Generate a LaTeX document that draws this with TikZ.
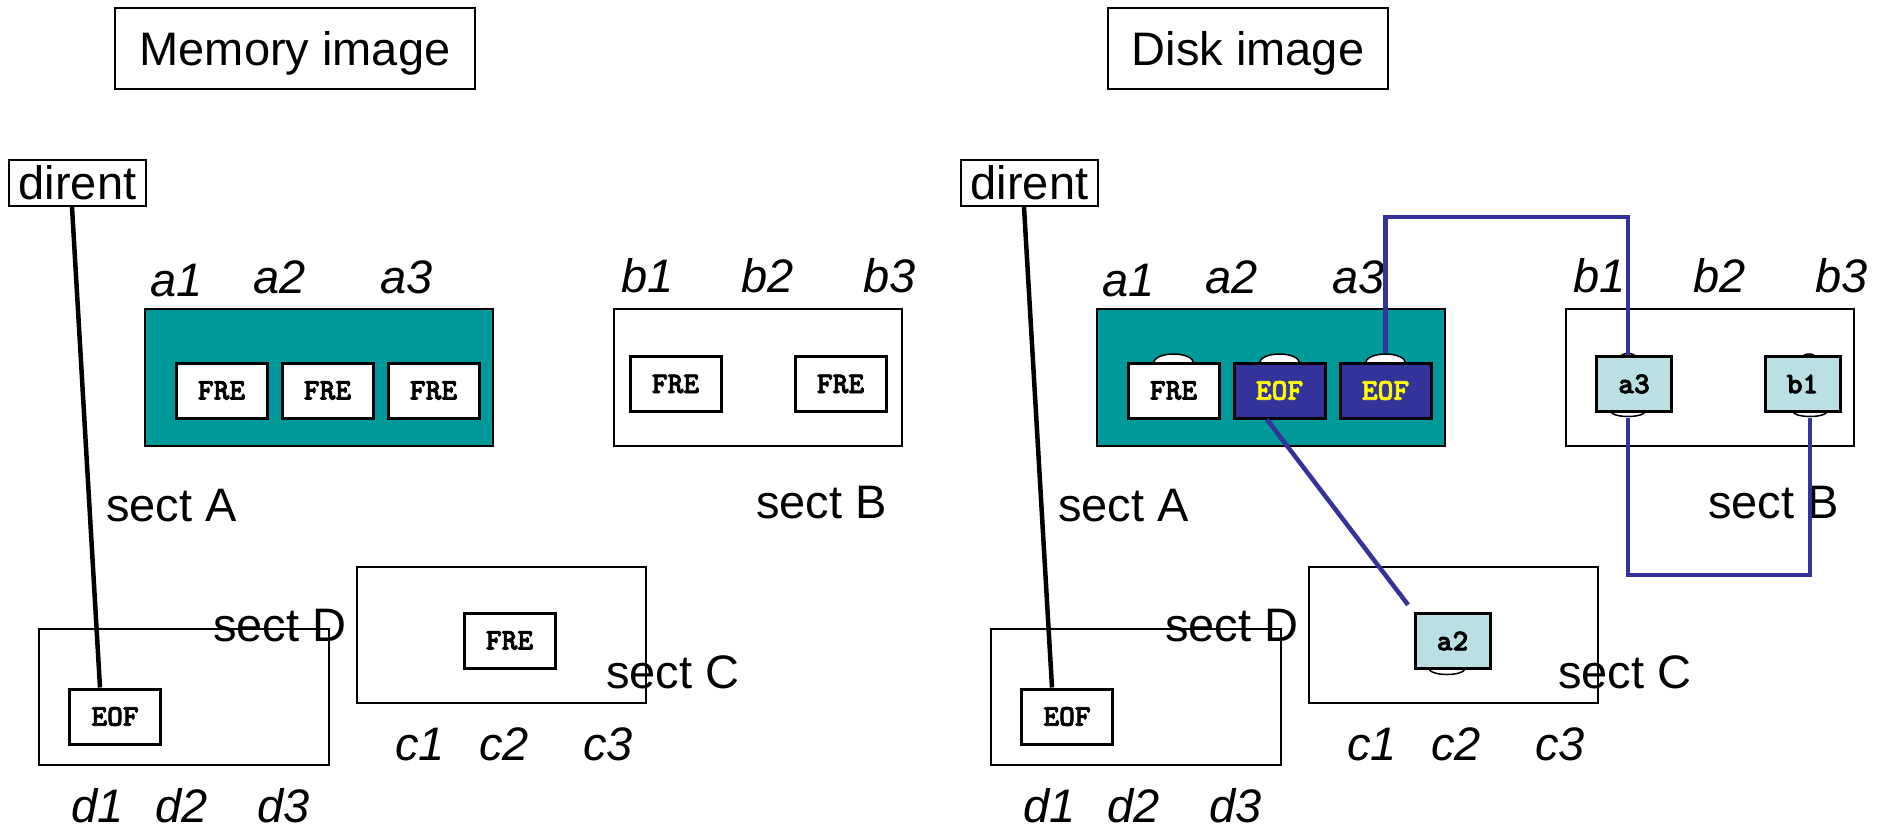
\documentclass[tikz,border=0pt]{standalone}
\usepackage{fontspec}
\setmainfont{Liberation Sans}
\newfontfamily\slotfam[FakeBold=2.5]{lmmonolt10-bold.otf}
\usetikzlibrary{calc}

\definecolor{secteal}{RGB}{0,153,153}
\definecolor{linkblue}{RGB}{51,51,153}
\definecolor{slotpale}{RGB}{187,224,227}
\definecolor{eofyellow}{RGB}{255,255,0}

\newcommand\dgbig{\fontsize{47}{56}\selectfont}
\newcommand\dgslot{\fontsize{30}{34}\selectfont\slotfam}

\tikzset{
  titlebox/.style={draw, line width=2.5pt, minimum height=81pt, inner sep=0pt, text depth=0pt, font=\dgbig},
  namebox/.style={draw, line width=2pt, minimum width=137pt, minimum height=46pt, inner sep=0pt, font=\dgbig},
  sectbox/.style={draw, line width=2pt, inner sep=0pt, minimum height=137pt},
  lbl/.style={anchor=base west, inner sep=0pt, font=\dgbig},
  idx/.style={anchor=base west, inner sep=0pt, font=\dgbig\itshape},
  slot/.style={draw, line width=3pt, inner sep=0pt, minimum width=91pt, minimum height=55pt, font=\dgslot},
  freeslot/.style={slot, fill=white},
  eofslot/.style={slot, fill=linkblue, text=eofyellow},
  ptrslot/.style={slot, fill=slotpale, minimum width=75pt},
  bump/.style={draw, line width=1.5pt, fill=white},
  link/.style={draw=linkblue, line width=4.5pt},
  entry/.style={draw, line width=4.5pt},
}

% Sections, index labels, directory entry and its EOF block (shared by both halves)
\newcommand\sectorframe[1]{%
  \node[namebox] (#1dirent) at (77.5,183) {dirent};
  \node[sectbox, fill=secteal, minimum width=348pt] (#1secA) at (319,377.5) {};
  \node[sectbox, minimum width=288pt] (#1secB) at (758,377.5) {};
  \node[sectbox, minimum width=289pt, minimum height=136pt] (#1secC) at (501.5,635) {};
  \node[sectbox, minimum width=290pt, minimum height=136pt] (#1secD) at (184,697) {};
  \node[idx] (#1a1) at (150,296) {a1};
  \node[idx] (#1a2) at (253,293) {a2};
  \node[idx] (#1a3) at (380,293) {a3};
  \node[idx] (#1b1) at (621,292) {b1};
  \node[idx] (#1b2) at (741,292) {b2};
  \node[idx] (#1b3) at (863,292) {b3};
  \node[idx] (#1c1) at (395,760) {c1};
  \node[idx] (#1c2) at (479,760) {c2};
  \node[idx] (#1c3) at (583,760) {c3};
  \node[idx] (#1d1) at (71,822) {d1};
  \node[idx] (#1d2) at (155,822) {d2};
  \node[idx] (#1d3) at (257,822) {d3};
  \node[lbl] (#1nameA) at (106,521) {sect A};
  \node[lbl] (#1nameB) at (756,518) {sect B};
  \node[lbl] (#1nameD) at (213,641) {sect D};
  \node[lbl] (#1nameC) at (606,688) {sect C};
  \node[freeslot] (#1eofD) at (115,716.5) {EOF};
  \draw[entry] ([xshift=-5.5pt]#1dirent.south) -- ([xshift=-15pt]#1eofD.north);
}

\begin{document}
\begin{tikzpicture}[x=1pt, y=-1pt]
\useasboundingbox (0,0) rectangle (1889,830);

\node[titlebox, minimum width=360pt] (memtitle) at (295,48.5) {Memory image};
\node[titlebox, minimum width=280pt] (disktitle) at (1248,48.5) {Disk image};

% Memory image: every block free
\sectorframe{L}
\node[freeslot] (La1s) at (221.5,390.5) {FRE};
\node[freeslot] (La2s) at (327.5,390.5) {FRE};
\node[freeslot] (La3s) at (433.5,390.5) {FRE};
\node[freeslot] (Lb1s) at (675.5,384) {FRE};
\node[freeslot] (Lb3s) at (840.5,384) {FRE};
\node[freeslot] (Lc2s) at (509.5,640.5) {FRE};

% Disk image: blocks chained by pointers
\begin{scope}[xshift=952pt]
\sectorframe{R}
\draw[bump] (221.5,363) ellipse [x radius=20pt, y radius=9pt];
\draw[bump] (327.5,363) ellipse [x radius=20pt, y radius=9pt];
\draw[bump] (433.5,363) ellipse [x radius=20pt, y radius=9pt];
\draw[bump] (676,356.5) ellipse [x radius=7pt, y radius=3pt];
\draw[bump] (676,411.5) ellipse [x radius=17pt, y radius=5pt];
\draw[bump] (857,356.5) ellipse [x radius=6pt, y radius=2.5pt];
\draw[bump] (858,411.5) ellipse [x radius=17pt, y radius=5pt];
\draw[bump] (495,668.5) ellipse [x radius=18pt, y radius=6pt];
\node[freeslot] (Ra1s) at (221.5,390.5) {FRE};
\node[eofslot] (Ra2s) at (327.5,390.5) {EOF};
\node[eofslot] (Ra3s) at (433.5,390.5) {EOF};
\node[ptrslot] (Rb1s) at (682,384) {a3};
\node[ptrslot] (Rb3s) at (850.5,384) {b1};
\node[ptrslot] (Rc2s) at (500.5,641) {a2};
\coordinate (Rhop) at (676,217);
\coordinate (Rloop) at (676,575);
\draw[link] ([yshift=9pt]Ra3s.north) |- (Rhop) -- ([xshift=-6pt]Rb1s.north);
\draw[link] ([xshift=7.5pt,yshift=-5pt]Rb3s.south) |- (Rloop) -- ([xshift=-6pt,yshift=-5pt]Rb1s.south);
\draw[link, shorten >=9pt] ([xshift=-12.5pt]Ra2s.south) -- (Rc2s.north west);
\end{scope}
\end{tikzpicture}
\end{document}
